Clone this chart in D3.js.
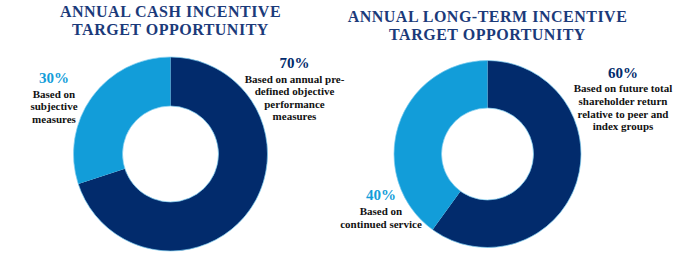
<!DOCTYPE html>
<html>
<head>
<meta charset="utf-8">
<script src="https://cdn.jsdelivr.net/npm/d3@7"></script>
<style>
  body { margin: 0; background: #fff; }
  svg { display: block; }
</style>
</head>
<body>
<svg width="698" height="264"></svg>
<script>
// data
const segments = ['objective', 'subjective']
const cashShares = [70, 30]
const ltiShares = [60, 40]
const cashTitle = ['ANNUAL CASH INCENTIVE', 'TARGET OPPORTUNITY']
const ltiTitle = ['ANNUAL LONG-TERM INCENTIVE', 'TARGET OPPORTUNITY']
const cashNotes = [
	['Based on annual pre-', 'defined objective', 'performance', 'measures'],
	['Based on', 'subjective', 'measures']
]
const ltiNotes = [
	['Based on future total', 'shareholder return', 'relative to peer and', 'index groups'],
	['Based on', 'continued service']
]

const dark = '#022b6c'
const light = '#129dd9'
const serif = "'Liberation Serif', 'DejaVu Serif', 'Times New Roman', serif"
const color = d3.scaleOrdinal().domain(segments).range([dark, light])

const svg = d3.select('svg')

const pie = d3.pie().sort(null).value(d => d)

// one donut with its title and two side notes
const drawDonut = (opts) => {
	const g = svg.append('g').attr('transform', `translate(${opts.cx}, ${opts.cy})`)

	const arc = d3.arc().innerRadius(opts.rIn).outerRadius(opts.rOut)

	g.selectAll('path')
		.data(pie(opts.values))
		.enter()
		.append('path')
		.attr('d', arc)
		.style('fill', (d, i) => color(segments[i]))

	// soft edge seen on the picture
	g.selectAll('circle')
		.data([opts.rOut, opts.rIn])
		.enter()
		.append('circle')
		.attr('r', d => d)
		.style('fill', 'none')
		.style('stroke', '#7cccf0')
		.style('stroke-opacity', 0.7)
		.style('stroke-width', 1)

	svg.append('text')
		.attr('x', opts.cx)
		.attr('text-anchor', 'middle')
		.attr('font-family', serif)
		.attr('font-weight', 'bold')
		.attr('fill', '#1b3a7a')
		.attr('font-size', 16)
		.attr('letter-spacing', 0.5)
		.selectAll('tspan')
		.data(opts.title)
		.enter()
		.append('tspan')
		.attr('x', opts.cx)
		.attr('y', (d, i) => opts.titleY + i * 18)
		.text(d => d)

	opts.notes.forEach((lines, i) => {
		const pos = opts.notePos[i]
		const t = svg.append('text')
			.attr('text-anchor', 'middle')
			.attr('font-family', serif)
			.attr('font-weight', 'bold')
		t.append('tspan')
			.attr('x', pos.x)
			.attr('y', pos.y)
			.attr('font-size', 15)
			.attr('fill', color(segments[i]))
			.text(`${opts.values[i]}%`)
		lines.forEach((line, j) => {
			t.append('tspan')
				.attr('x', pos.x)
				.attr('y', pos.y + 14.5 + j * pos.step)
				.attr('font-size', 11)
				.attr('fill', '#111')
				.text(line)
		})
	})
}

drawDonut({
	cx: 170.5, cy: 154, rOut: 97, rIn: 48,
	values: cashShares, title: cashTitle, titleY: 17.3, notes: cashNotes,
	notePos: [{ x: 294.5, y: 68, step: 12.5 }, { x: 54, y: 83.3, step: 12.5 }]
})

drawDonut({
	cx: 487.5, cy: 154, rOut: 93.5, rIn: 46,
	values: ltiShares, title: ltiTitle, titleY: 21.7, notes: ltiNotes,
	notePos: [{ x: 623, y: 77.5, step: 12.8 }, { x: 381, y: 200, step: 13 }]
})
</script>
</body>
</html>
